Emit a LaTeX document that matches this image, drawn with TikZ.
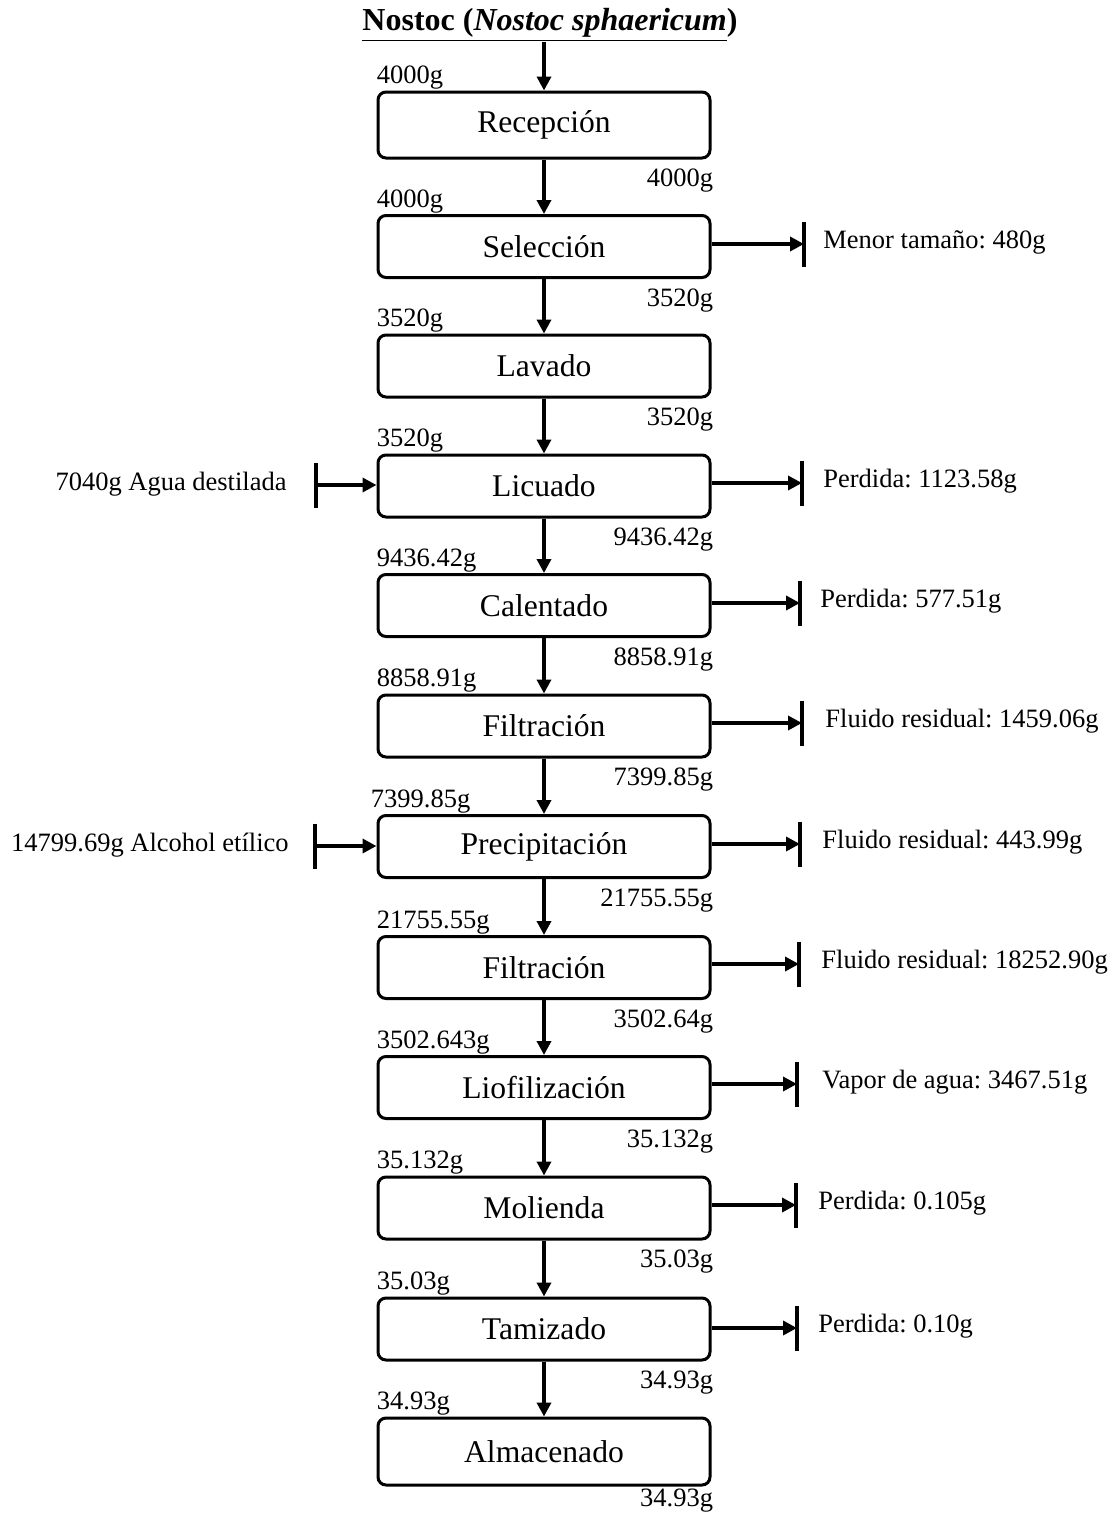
\documentclass[tikz,border=0pt]{standalone}
\usepackage{fontspec}
\setmainfont{Liberation Serif}
\frenchspacing
\usetikzlibrary{arrows.meta}

\begin{document}
\begin{tikzpicture}[x=0.5pt, y=-0.5pt,
    proc/.style={draw, line width=1.5pt, rounded corners=4pt, minimum width=166pt,
      minimum height=31pt, inner sep=0pt, font=\fontsize{15.8}{18}\selectfont},
    mass/.style={inner sep=0pt, font=\fontsize{13.25}{15}\selectfont},
    flow/.style={line width=1.75pt, -{Triangle[length=7pt, width=7pt]}},
    stopbar/.style={line width=2pt},
    side/.style={inner sep=0pt, anchor=base west, font=\fontsize{13.25}{15}\selectfont}]
    \useasboundingbox (0, 0) rectangle (1119, 1515);

    \node[inner sep=0pt, anchor=base, font=\fontsize{16}{18}\selectfont\bfseries] (title) at (550, 31)
      {\underline{Nostoc (\textit{Nostoc sphaericum}})};

    % process boxes
    \node[proc, minimum height=33pt] (recep) at (544, 125) {Recepción};
    \node[proc] (selec) at (544, 246.5) {Selección};
    \node[proc] (lavad) at (544, 366) {Lavado};
    \node[proc] (licua) at (544, 486) {Licuado};
    \node[proc] (calen) at (544, 605.5) {Calentado};
    \node[proc] (filt1) at (544, 726) {Filtración};
    \node[proc] (preci) at (544, 846.5) {Precipitación};
    \node[proc] (filt2) at (544, 967.5) {Filtración};
    \node[proc] (liofi) at (544, 1087.5) {Liofilización};
    \node[proc] (molie) at (544, 1208) {Molienda};
    \node[proc] (tamiz) at (544, 1329) {Tamizado};
    \node[proc, minimum height=33.5pt] (almac) at (544, 1451.5) {Almacenado};

    % main flow
    \draw[flow] (title.south -| recep.north) -- (recep.north);
    \draw[flow] (recep.south) -- (selec.north);
    \draw[flow] (selec.south) -- (lavad.north);
    \draw[flow] (lavad.south) -- (licua.north);
    \draw[flow] (licua.south) -- (calen.north);
    \draw[flow] (calen.south) -- (filt1.north);
    \draw[flow] (filt1.south) -- (preci.north);
    \draw[flow] (preci.south) -- (filt2.north);
    \draw[flow] (filt2.south) -- (liofi.north);
    \draw[flow] (liofi.south) -- (molie.north);
    \draw[flow] (molie.south) -- (tamiz.north);
    \draw[flow] (tamiz.south) -- (almac.north);

    % masses in and out
    \node[mass, anchor=base west] (recepin) at ([yshift=3.5pt]recep.north west) {4000g};
    \node[mass, anchor=base east] (recepout) at ([xshift=1pt, yshift=-13.5pt]recep.south east) {4000g};
    \node[mass, anchor=base west] (selecin) at ([yshift=3.5pt]selec.north west) {4000g};
    \node[mass, anchor=base east] (selecout) at ([xshift=1pt, yshift=-13.5pt]selec.south east) {3520g};
    \node[mass, anchor=base west] (lavadin) at ([yshift=3.5pt]lavad.north west) {3520g};
    \node[mass, anchor=base east] (lavadout) at ([xshift=1pt, yshift=-13.5pt]lavad.south east) {3520g};
    \node[mass, anchor=base west] (licuain) at ([yshift=3.5pt]licua.north west) {3520g};
    \node[mass, anchor=base east] (licuaout) at ([xshift=1pt, yshift=-13.5pt]licua.south east) {9436.42g};
    \node[mass, anchor=base west] (calenin) at ([yshift=3.5pt]calen.north west) {9436.42g};
    \node[mass, anchor=base east] (calenout) at ([xshift=1pt, yshift=-13.5pt]calen.south east) {8858.91g};
    \node[mass, anchor=base west] (filt1in) at ([yshift=3.5pt]filt1.north west) {8858.91g};
    \node[mass, anchor=base east] (filt1out) at ([xshift=1pt, yshift=-13.5pt]filt1.south east) {7399.85g};
    \node[mass, anchor=base west] (preciin) at ([xshift=-3pt, yshift=3.5pt]preci.north west) {7399.85g};
    \node[mass, anchor=base east] (preciout) at ([xshift=1pt, yshift=-13.5pt]preci.south east) {21755.55g};
    \node[mass, anchor=base west] (filt2in) at ([yshift=3.5pt]filt2.north west) {21755.55g};
    \node[mass, anchor=base east] (filt2out) at ([xshift=1pt, yshift=-13.5pt]filt2.south east) {3502.64g};
    \node[mass, anchor=base west] (liofiin) at ([yshift=3.5pt]liofi.north west) {3502.643g};
    \node[mass, anchor=base east] (liofiout) at ([xshift=1pt, yshift=-13.5pt]liofi.south east) {35.132g};
    \node[mass, anchor=base west] (moliein) at ([yshift=3.5pt]molie.north west) {35.132g};
    \node[mass, anchor=base east] (molieout) at ([xshift=1pt, yshift=-13.5pt]molie.south east) {35.03g};
    \node[mass, anchor=base west] (tamizin) at ([yshift=3.5pt]tamiz.north west) {35.03g};
    \node[mass, anchor=base east] (tamizout) at ([xshift=1pt, yshift=-13.5pt]tamiz.south east) {34.93g};
    \node[mass, anchor=base west] (almacin) at ([yshift=3.5pt]almac.north west) {34.93g};
    \node[mass, anchor=base east] (almacout) at ([xshift=1pt, yshift=-10pt]almac.south east) {34.93g};

    % added streams
    \coordinate (agua) at (316, 485);
    \draw[stopbar] ([yshift=11.25pt]agua) -- ([yshift=-11.25pt]agua);
    \draw[flow] (agua) -- (agua -| licua.west);
    \node[side, anchor=base east] (aguatxt) at ([xshift=-14.5pt, yshift=-2.5pt]agua) {7040g Agua destilada};
    \coordinate (alcohol) at (315, 846);
    \draw[stopbar] ([yshift=11.25pt]alcohol) -- ([yshift=-11.25pt]alcohol);
    \draw[flow] (alcohol) -- (alcohol -| preci.west);
    \node[side, anchor=base east] (alcoholtxt) at ([xshift=-13pt, yshift=-2.5pt]alcohol) {14799.69g Alcohol etílico};

    % removed streams
    \coordinate (selecloss) at (804, 244);
    \coordinate (licualoss) at (802, 483);
    \coordinate (calenloss) at (800, 603);
    \coordinate (filt1loss) at (802, 723);
    \coordinate (preciloss) at (800, 844);
    \coordinate (filt2loss) at (799, 964);
    \coordinate (liofiloss) at (797, 1084);
    \coordinate (molieloss) at (796, 1205);
    \coordinate (tamizloss) at (797, 1328);
    \draw[flow] (selecloss -| selec.east) -- (selecloss);
    \draw[flow] (licualoss -| licua.east) -- (licualoss);
    \draw[flow] (calenloss -| calen.east) -- (calenloss);
    \draw[flow] (filt1loss -| filt1.east) -- (filt1loss);
    \draw[flow] (preciloss -| preci.east) -- (preciloss);
    \draw[flow] (filt2loss -| filt2.east) -- (filt2loss);
    \draw[flow] (liofiloss -| liofi.east) -- (liofiloss);
    \draw[flow] (molieloss -| molie.east) -- (molieloss);
    \draw[flow] (tamizloss -| tamiz.east) -- (tamizloss);
    \draw[stopbar] ([yshift=11.25pt]selecloss) -- ([yshift=-11.25pt]selecloss);
    \draw[stopbar] ([yshift=11.25pt]licualoss) -- ([yshift=-11.25pt]licualoss);
    \draw[stopbar] ([yshift=11.25pt]calenloss) -- ([yshift=-11.25pt]calenloss);
    \draw[stopbar] ([yshift=11.25pt]filt1loss) -- ([yshift=-11.25pt]filt1loss);
    \draw[stopbar] ([yshift=11.25pt]preciloss) -- ([yshift=-11.25pt]preciloss);
    \draw[stopbar] ([yshift=11.25pt]filt2loss) -- ([yshift=-11.25pt]filt2loss);
    \draw[stopbar] ([yshift=11.25pt]liofiloss) -- ([yshift=-11.25pt]liofiloss);
    \draw[stopbar] ([yshift=11.25pt]molieloss) -- ([yshift=-11.25pt]molieloss);
    \draw[stopbar] ([yshift=11.25pt]tamizloss) -- ([yshift=-11.25pt]tamizloss);
    \node[side] (selectxt) at ([xshift=9.5pt, yshift=-2pt]selecloss) {Menor tamaño: 480g};
    \node[side] (licuatxt) at ([xshift=10.5pt, yshift=-2pt]licualoss) {Perdida: 1123.58g};
    \node[side] (calentxt) at ([xshift=10pt, yshift=-2pt]calenloss) {Perdida: 577.51g};
    \node[side] (filt1txt) at ([xshift=11.5pt, yshift=-2pt]filt1loss) {Fluido residual: 1459.06g};
    \node[side] (precitxt) at ([xshift=11pt, yshift=-2pt]preciloss) {Fluido residual: 443.99g};
    \node[side] (filt2txt) at ([xshift=11pt, yshift=-2pt]filt2loss) {Fluido residual: 18252.90g};
    \node[side] (liofitxt) at ([xshift=12.5pt, yshift=-2pt]liofiloss) {Vapor de agua: 3467.51g};
    \node[side] (molietxt) at ([xshift=11pt, yshift=-2pt]molieloss) {Perdida: 0.105g};
    \node[side] (tamiztxt) at ([xshift=10.5pt, yshift=-2pt]tamizloss) {Perdida: 0.10g};
  \end{tikzpicture}
\end{document}
